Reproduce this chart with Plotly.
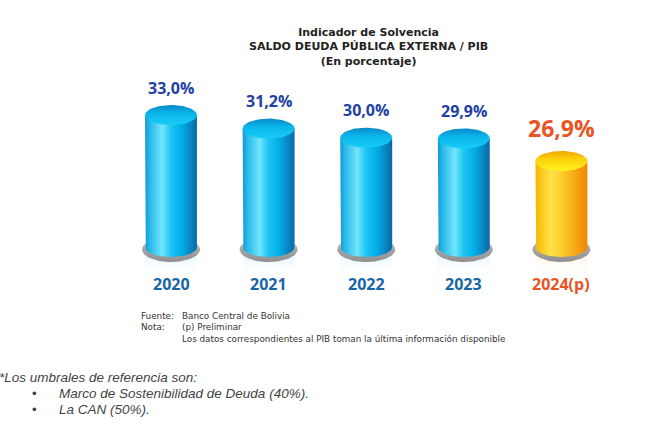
import numpy as np
import plotly.graph_objects as go

years = ["2020", "2021", "2022", "2023", "2024(p)"]
values = [33.0, 31.2, 30.0, 29.9, 26.9]
preliminary = [False, False, False, False, True]

W, H = 660, 428
BASE = 15.5          # value where the cylinders stand
HW = 0.266           # half width of a cylinder (x units)
HH = 1.33            # half height of the ellipses (y units)

blue_body = [[0, "#1496d0"], [0.08, "#24b6e8"], [0.33, "#72e6fc"], [0.5, "#1cc4f2"],
             [0.7, "#02aee8"], [0.88, "#0a84c2"], [1, "#0868a6"]]
blue_top = [[0, "#18cdf6"], [0.6, "#0ab4ea"], [1, "#0a88c8"]]
gold_body = [[0, "#f6b800"], [0.3, "#ffe24a"], [0.55, "#f9c828"], [0.8, "#f5a214"], [1, "#ee8800"]]
gold_top = [[0, "#fff31e"], [0.6, "#fdd10a"], [1, "#f4a400"]]


def px(p):
    return p / W


def py(p):
    return 1 - p / H


fig = go.Figure()
t = np.linspace(0, 2 * np.pi, 80)
arc = np.linspace(np.pi, 2 * np.pi, 40)

for i, (v, prel) in enumerate(zip(values, preliminary)):
    body_cs = gold_body if prel else blue_body
    top_cs = gold_top if prel else blue_top
    refl = "rgba(250,215,150,0.45)" if prel else "rgba(160,215,245,0.45)"

    # reflection under the base
    fig.add_trace(go.Scatter(
        x=[i - HW, i + HW, i + HW, i - HW, i - HW],
        y=[BASE, BASE, BASE - 4.2, BASE - 4.2, BASE],
        mode="lines", line=dict(width=0), fill="toself",
        fillgradient=dict(type="vertical", colorscale=[[0, "rgba(255,255,255,0)"], [1, refl]]),
        hoverinfo="skip", showlegend=False))

    # grey ring
    fig.add_trace(go.Scatter(
        x=i + 0.297 * np.cos(t), y=BASE - 0.33 + 1.66 * np.sin(t),
        mode="lines", line=dict(width=0), fill="toself",
        fillgradient=dict(type="vertical", colorscale=[[0, "#8f8f8f"], [0.5, "#a6a6a6"], [1, "#d2d2d2"]]),
        hoverinfo="skip", showlegend=False))

    # body
    bx = np.concatenate([[i - HW, i - HW], i + HW * np.cos(arc), [i + HW, i - HW]])
    by = np.concatenate([[v, BASE], BASE + HH * np.sin(arc), [v, v]])
    fig.add_trace(go.Scatter(
        x=bx, y=by, mode="lines", line=dict(width=0), fill="toself",
        fillgradient=dict(type="horizontal", colorscale=body_cs),
        hoverinfo="skip", showlegend=False))

    # top
    fig.add_trace(go.Scatter(
        x=i + HW * np.cos(t), y=v + HH * np.sin(t),
        mode="lines", line=dict(width=0), fill="toself",
        fillgradient=dict(type="vertical", colorscale=top_cs),
        hoverinfo="skip", showlegend=False))

annotations = []
for i, (v, yr, prel) in enumerate(zip(values, years, preliminary)):
    lab = f"{v:.1f}%".replace(".", ",")
    annotations.append(dict(
        x=i, y=v + HH + 0.6, xref="x", yref="y", yanchor="bottom", showarrow=False,
        text=f"<b>{lab}</b>",
        font=dict(family="Open Sans", size=23 if prel else 16,
                  color="#ea5424" if prel else "#2140a6")))
    annotations.append(dict(
        x=i, y=py(284), xref="x", yref="paper", yanchor="middle", showarrow=False,
        text=f"<b>{yr}</b>",
        font=dict(family="Open Sans", size=16, color="#ea5424" if prel else "#1766a8")))

# title block
annotations.append(dict(
    x=px(368), y=py(47), xref="paper", yref="paper", yanchor="middle", showarrow=False,
    text="<b>Indicador de Solvencia<br>SALDO DEUDA PÚBLICA EXTERNA / PIB<br>(En porcentaje)</b>",
    font=dict(family="DejaVu Sans", size=11, color="#222222")))

# source and notes
note_font = dict(family="DejaVu Sans", size=8.8, color="#333333")
annotations.append(dict(
    x=px(139), y=py(309), xref="paper", yref="paper", xanchor="left", yanchor="top",
    align="left", showarrow=False, text="Fuente:<br>Nota:", font=note_font))
annotations.append(dict(
    x=px(180), y=py(309), xref="paper", yref="paper", xanchor="left", yanchor="top",
    align="left", showarrow=False, font=note_font,
    text="Banco Central de Bolivia<br>(p) Preliminar<br>"
         "Los datos correspondientes al PIB toman la última información disponible"))

it_font = dict(family="Liberation Sans", size=13.5, color="#444444")
bottom = [(-3, 377, "<i>*Los umbrales de referencia son:</i>"),
          (30, 393, "•"), (57, 393, "<i>Marco de Sostenibilidad de Deuda (40%).</i>"),
          (30, 409, "•"), (57, 409, "<i>La CAN (50%).</i>")]
for xx, yy, txt in bottom:
    annotations.append(dict(
        x=px(xx), y=py(yy), xref="paper", yref="paper", xanchor="left", yanchor="middle",
        showarrow=False, text=txt, font=it_font))

fig.update_layout(
    width=W, height=H,
    margin=dict(l=0, r=0, t=0, b=0),
    paper_bgcolor="white", plot_bgcolor="white",
    xaxis=dict(range=[-171 / 97.6, -171 / 97.6 + W / 97.6], visible=False, fixedrange=True),
    yaxis=dict(range=[BASE - 181 / 7.54, BASE + 247 / 7.54], visible=False, fixedrange=True),
    annotations=annotations,
    showlegend=False,
)

fig.write_html("out.html", config={"displayModeBar": False},
               post_script="document.body.style.margin = '0';")
